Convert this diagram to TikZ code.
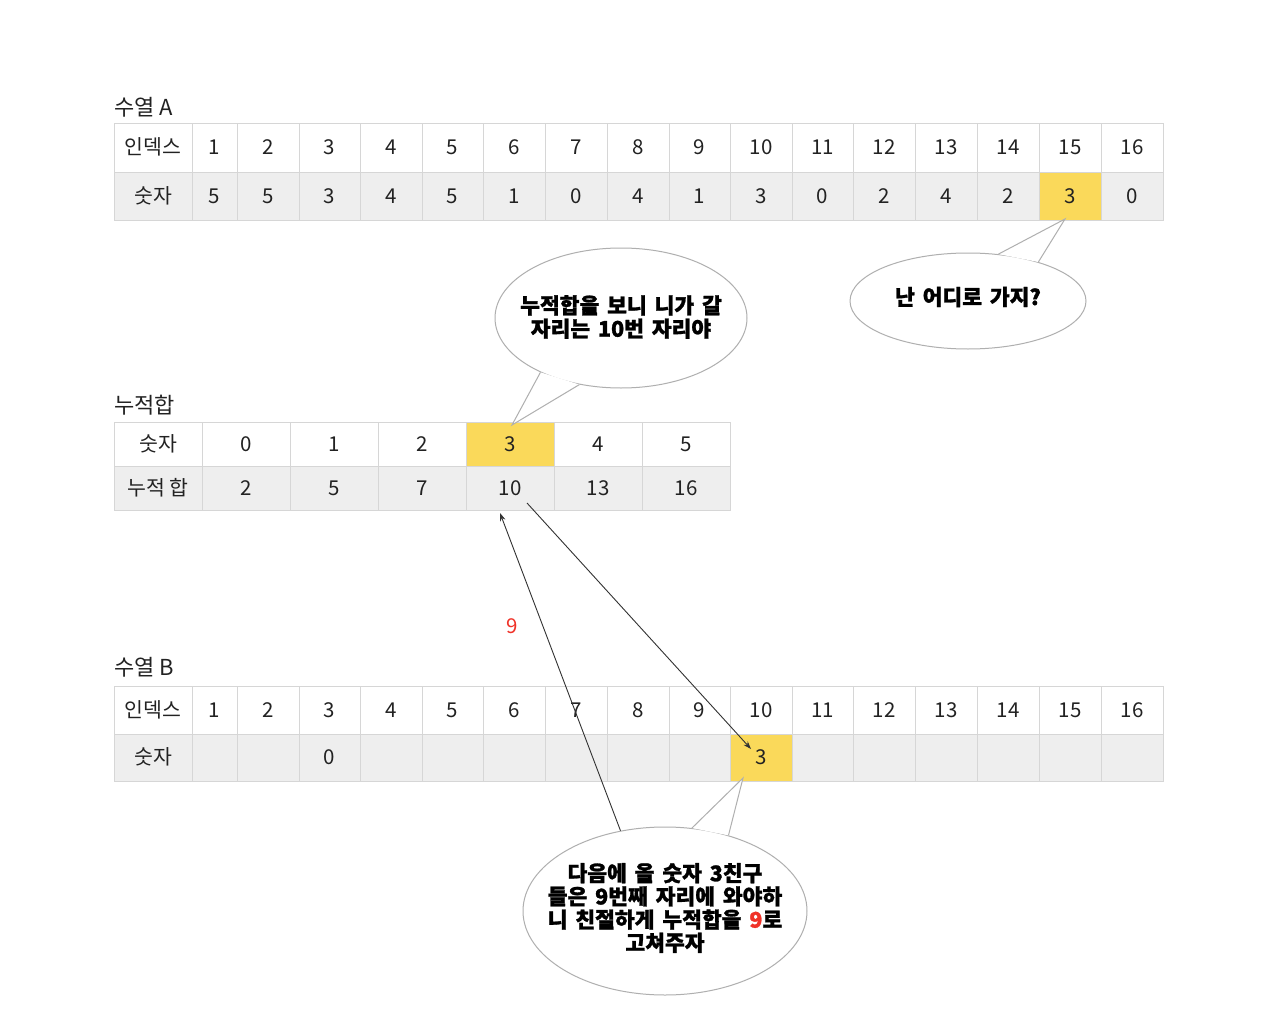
\documentclass[tikz,border=0pt]{standalone}
\usepackage{fontspec}
\setmainfont{Noto Sans CJK KR}
\newfontfamily\bubfont{Noto Sans CJK KR}[WordSpace=1.6,BoldFeatures={FakeBold=1.2}]
\usetikzlibrary{shapes.geometric,arrows.meta}
\definecolor{cellline}{RGB}{214,214,214}
\definecolor{rowgray}{RGB}{238,238,238}
\definecolor{hl}{RGB}{250,217,90}
\definecolor{txt}{RGB}{34,34,34}
\definecolor{bubline}{RGB}{175,175,175}
\definecolor{arrowc}{RGB}{50,50,50}
\definecolor{redtxt}{RGB}{240,50,40}
\begin{document}
\begin{tikzpicture}[x=1pt,y=-1pt,
  cell/.style={draw=cellline,line width=0.8pt,inner sep=0pt,outer sep=0pt,anchor=north west,
    text=txt,font=\fontsize{20.5}{23}\selectfont,text height=14.8pt,text depth=0pt},
  title/.style={anchor=west,inner sep=0pt,text=txt,font=\fontsize{22}{24}\selectfont},
  bubble/.style={ellipse,draw=bubline,line width=1pt,fill=white,inner sep=0pt},
  bubtext/.style={align=center,text=black,font=\bubfont\bfseries\fontsize{21.5}{23.2}\selectfont,inner sep=0pt},
  tailline/.style={draw=bubline,line width=1pt,line join=miter},
  conn/.style={draw=arrowc,line width=0.9pt,-{Stealth[length=8pt,width=5.5pt]}}
]
\useasboundingbox (0,0) rectangle (1280,1014);
\fill[white] (0,0) rectangle (1280,1014);

% ---------- table A ----------
\node[title] (tA) at (114,107) {수열 A};
\node[cell,minimum width=78pt,minimum height=49pt,fill=white] (aL1) at (114,123) {인덱스};
\node[cell,minimum width=78pt,minimum height=48pt,fill=rowgray] (aL2) at (114,172) {숫자};
\foreach \n/\xl/\xr/\v/\f in {1/192/237/5/rowgray,2/237/299/5/rowgray,3/299/360/3/rowgray,
  4/360/422/4/rowgray,5/422/483/5/rowgray,6/483/545/1/rowgray,7/545/607/0/rowgray,
  8/607/669/4/rowgray,9/669/730/1/rowgray,10/730/792/3/rowgray,11/792/853/0/rowgray,
  12/853/915/2/rowgray,13/915/977/4/rowgray,14/977/1039/2/rowgray,15/1039/1101/3/hl,
  16/1101/1163/0/rowgray}{
  \pgfmathsetmacro\w{\xr-\xl}
  \node[cell,minimum width=\w pt,minimum height=49pt,fill=white] (a\n) at (\xl,123) {\n};
  \node[cell,minimum width=\w pt,minimum height=48pt,fill=\f] (av\n) at (\xl,172) {\v};
}

% ---------- cumulative table ----------
\node[title] (tM) at (114,405) {누적합};
\node[cell,minimum width=88pt,minimum height=44pt,fill=white] (mL1) at (114,422) {숫자};
\node[cell,minimum width=88pt,minimum height=44pt,fill=rowgray] (mL2) at (114,466) {누적 합};
\foreach \k/\xl/\s/\f in {0/202/2/white,1/290/5/white,2/378/7/white,3/466/10/hl,4/554/13/white,5/642/16/white}{
  \node[cell,minimum width=88pt,minimum height=44pt,fill=\f] (m\k) at (\xl,422) {\k};
  \node[cell,minimum width=88pt,minimum height=44pt,fill=rowgray] (ms\k) at (\xl,466) {\s};
}

% ---------- table B ----------
\node[title] (tB) at (114,667) {수열 B};
\node[cell,minimum width=78pt,minimum height=48pt,fill=white] (bL1) at (114,686) {인덱스};
\node[cell,minimum width=78pt,minimum height=47pt,fill=rowgray] (bL2) at (114,734) {숫자};
\foreach \n/\xl/\xr/\v/\f in {1/192/237/{}/rowgray,2/237/299/{}/rowgray,3/299/360/0/rowgray,
  4/360/422/{}/rowgray,5/422/483/{}/rowgray,6/483/545/{}/rowgray,7/545/607/{}/rowgray,
  8/607/669/{}/rowgray,9/669/730/{}/rowgray,10/730/792/3/hl,11/792/853/{}/rowgray,
  12/853/915/{}/rowgray,13/915/977/{}/rowgray,14/977/1039/{}/rowgray,15/1039/1101/{}/rowgray,
  16/1101/1163/{}/rowgray}{
  \pgfmathsetmacro\w{\xr-\xl}
  \node[cell,minimum width=\w pt,minimum height=48pt,fill=white] (b\n) at (\xl,686) {\n};
  \node[cell,minimum width=\w pt,minimum height=47pt,fill=\f] (bv\n) at (\xl,734) {\v};
}

% red 9
\node[text=redtxt,font=\fontsize{20.5}{23}\selectfont,inner sep=0pt] (nine) at (512,626) {9};

% ---------- bubble 1 ----------
\coordinate (tip1) at (1065,219);
\node[bubble,minimum width=236pt,minimum height=96pt] (bub1) at (968,301) {};
\fill[white] (bub1.57) -- (tip1) -- (bub1.29) -- cycle;
\draw[tailline] (bub1.57) -- (tip1) -- (bub1.29);
\node[bubtext] (bt1) at (968,297) {난 어디로 가지?};

% ---------- bubble 2 ----------
\coordinate (tip2) at (512,425);
\node[bubble,minimum width=252pt,minimum height=140pt] (bub2) at (621,318) {};
\fill[white] (bub2.214) -- (tip2) -- (bub2.238) -- cycle;
\draw[tailline] (bub2.214) -- (tip2) -- (bub2.238);
\node[bubtext] (bt2) at (621,317) {누적합을 보니 니가 갈\\자리는 10번 자리야};

% ---------- bubble 3 ----------
\coordinate (tip3) at (743,778);
\node[bubble,minimum width=284pt,minimum height=168pt] (bub3) at (665,911) {};
\fill[white] (bub3.72) -- (tip3) -- (bub3.50) -- cycle;
\draw[tailline] (bub3.72) -- (tip3) -- (bub3.50);
\node[bubtext] (bt3) at (665,908) {다음에 올 숫자 3친구\\들은 9번째 자리에 와야하\\니 친절하게 누적합을 {\color{redtxt}9}로\\고쳐주자};

% ---------- arrows ----------
\coordinate (e1) at (500,513);
\coordinate (s2) at (527,503);
\coordinate (e2) at (751,749);
\draw[conn] (bub3.119) -- (e1);
\draw[conn] (s2) -- (e2);
\end{tikzpicture}
\end{document}
